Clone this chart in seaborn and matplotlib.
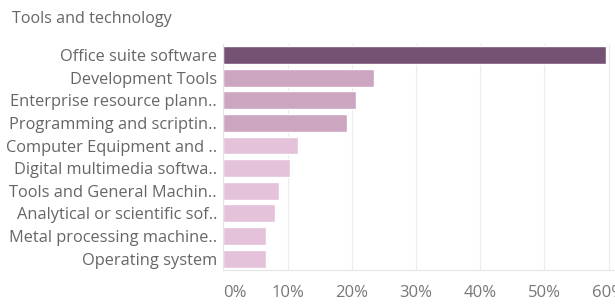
import pandas as pd
import numpy as np
import seaborn as sns
import matplotlib.pyplot as plt

categories = ['Office suite software', 'Development Tools', 'Enterprise resource plann..',
              'Programming and scriptin..', 'Computer Equipment and ..', 'Digital multimedia softwa..',
              'Tools and General Machin..', 'Analytical or scientific sof..', 'Metal processing machine..',
              'Operating system']
shares = [59.6, 23.4, 20.6, 19.2, 11.6, 10.4, 8.7, 8.1, 6.6, 6.6]
tiers = ['top', 'mid', 'mid', 'mid', 'low', 'low', 'low', 'low', 'low', 'low']
tick_vals = [0, 10, 20, 30, 40, 50, 60]

df = pd.DataFrame({'category': categories, 'share': shares, 'tier': tiers})
palette = {'top': '#7b4b79', 'mid': '#d29fc2', 'low': '#e8bcdc'}

sns.set_style('white')
plt.rcParams['font.family'] = ['Open Sans', 'DejaVu Sans']

fig = plt.figure(figsize=(6.15, 3.04), dpi=100)
ax = fig.add_axes([223.3 / 615, 1 - 270 / 304, (614 - 223.3) / 615, (270 - 43.7) / 304])

sns.barplot(data=df, x='share', y='category', hue='tier', palette=palette,
            dodge=False, legend=False, width=0.79, ax=ax, zorder=2)

ax.set_xlim(0, (614 - 223.3) / 6.42)
ax.set_xticks(tick_vals)
ax.set_xticklabels([f'{v}%' for v in tick_vals])
ax.grid(axis='x', color='#ececec', linewidth=0.8, zorder=0)
ax.set_xlabel('')
ax.set_ylabel('')
for s in ['top', 'right']:
    ax.spines[s].set_visible(False)
ax.spines['left'].set_color('#e4e4e4')
ax.spines['bottom'].set_color('#e4e4e4')
ax.tick_params(axis='y', length=0, pad=4.5, labelsize=11.8, labelcolor='#666666')
ax.tick_params(axis='x', length=0, pad=10.5, labelsize=12, labelcolor='#777777')
ax.get_xticklabels()[0].set_horizontalalignment('left')

fig.text(12 / 615, 1 - 19 / 304, 'Tools and technology', fontsize=11.6, color='#666666', va='center')

plt.savefig('out.png', dpi=100)
